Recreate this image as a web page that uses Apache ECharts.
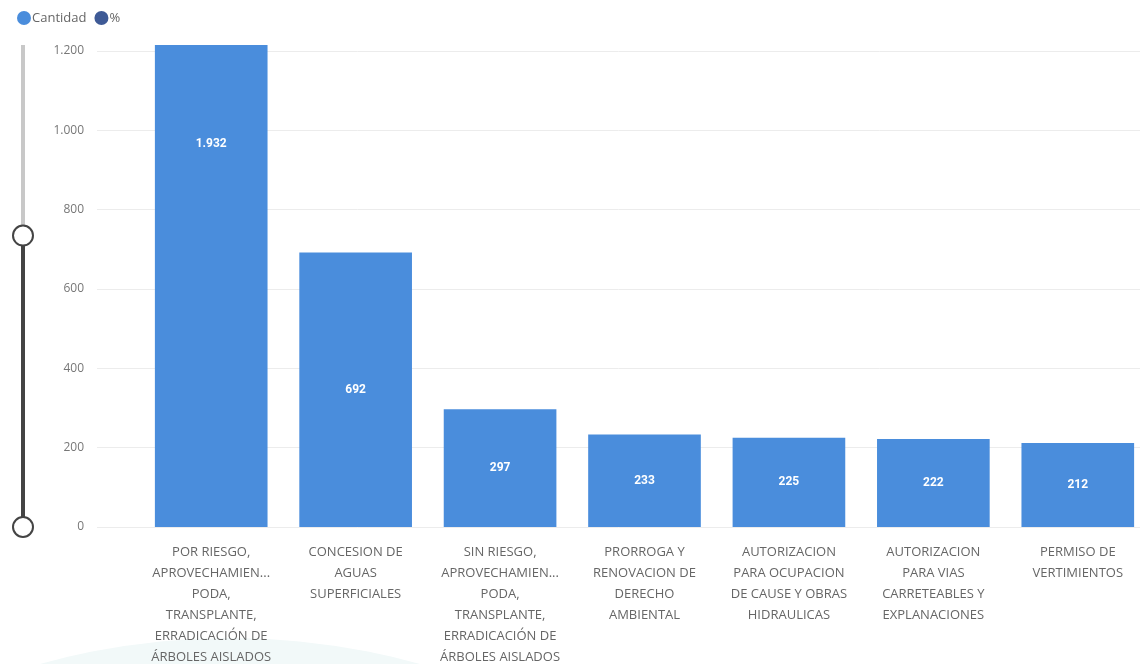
<!DOCTYPE html>
<html>
<head>
<meta charset="utf-8">
<title>Cantidad por tipo de trámite</title>
<script src="https://cdn.jsdelivr.net/npm/echarts@6/dist/echarts.min.js"></script>
<style>
  html, body { margin: 0; padding: 0; background: #fff; }
  #chart { width: 1140px; height: 664px; }
</style>
</head>
<body>
<div id="chart"></div>
<script>
"use strict";

// ---- data ----
var categories = [
    'POR RIESGO, APROVECHAMIENTO, PODA, TRANSPLANTE, ERRADICACIÓN DE ÁRBOLES AISLADOS',
    'CONCESION DE AGUAS SUPERFICIALES',
    'SIN RIESGO, APROVECHAMIENTO, PODA, TRANSPLANTE, ERRADICACIÓN DE ÁRBOLES AISLADOS',
    'PRORROGA Y RENOVACION DE DERECHO AMBIENTAL',
    'AUTORIZACION PARA OCUPACION DE CAUSE Y OBRAS HIDRAULICAS',
    'AUTORIZACION PARA VIAS CARRETEABLES Y EXPLANACIONES',
    'PERMISO DE VERTIMIENTOS'
];
// wrapped labels as they show under the axis
var tickLabels = [
    'POR RIESGO,\nAPROVECHAMIEN...\nPODA,\nTRANSPLANTE,\nERRADICACIÓN DE\nÁRBOLES AISLADOS',
    'CONCESION DE\nAGUAS\nSUPERFICIALES',
    'SIN RIESGO,\nAPROVECHAMIEN...\nPODA,\nTRANSPLANTE,\nERRADICACIÓN DE\nÁRBOLES AISLADOS',
    'PRORROGA Y\nRENOVACION DE\nDERECHO\nAMBIENTAL',
    'AUTORIZACION\nPARA OCUPACION\nDE CAUSE Y OBRAS\nHIDRAULICAS',
    'AUTORIZACION\nPARA VIAS\nCARRETEABLES Y\nEXPLANACIONES',
    'PERMISO DE\nVERTIMIENTOS'
];
var cantidad = [1932, 692, 297, 233, 225, 222, 212];
var porcentaje = [];   // second series, not drawn in the visible window

// zoom window shown by the slider
var viewMin = 0;
var viewMax = 1215;
var axisMax = 2000;

function fmt(n) {
    return String(n).replace(/\B(?=(\d{3})+(?!\d))/g, '.');
}

var chart = echarts.init(document.getElementById('chart'));

var option = {
    backgroundColor: '#fff',
    animation: false,
    textStyle: { fontFamily: 'Open Sans, Noto Sans, sans-serif' },

    // faint decorative arc bottom-left
    graphic: [{
        type: 'circle',
        shape: { cx: 230, cy: 1345, r: 707 },
        style: { fill: '#f2f9f9' },
        z: -10
    }],

    legend: {
        left: 12,
        top: 6,
        icon: 'circle',
        itemWidth: 14,
        itemHeight: 14,
        itemGap: 8,
        textStyle: { color: '#666', fontSize: 13, padding: [0, 0, 0, -4] },
        data: ['Cantidad', '%']
    },

    grid: [
        // y axis labels + split lines
        { left: 97, right: 0, top: 45, bottom: 137, outerBoundsMode: 'none' },
        // bars
        { left: 139, right: -10, top: 45, bottom: 137, outerBoundsMode: 'none' }
    ],

    xAxis: [
        { type: 'category', gridIndex: 0, data: categories, show: false },
        {
            type: 'category',
            gridIndex: 1,
            data: categories,
            axisLine: { show: false },
            axisTick: { show: false },
            axisLabel: {
                interval: 0,
                color: '#666',
                fontSize: 13,
                lineHeight: 21,
                margin: 15,
                verticalAlign: 'top',
                formatter: function(val, idx) { return tickLabels[idx]; }
            }
        }
    ],

    yAxis: [
        {
            type: 'value',
            gridIndex: 0,
            min: 0,
            max: axisMax,
            interval: 200,
            axisLine: { show: false },
            axisTick: { show: false },
            axisLabel: {
                color: '#777',
                fontSize: 12,
                margin: 13,
                showMaxLabel: false,
                formatter: function(v) { return fmt(v); }
            },
            splitLine: {
                showMaxLine: false,
                lineStyle: { color: '#ececec', width: 1 }
            }
        },
        {
            type: 'value',
            gridIndex: 1,
            min: 0,
            max: axisMax,
            interval: 200,
            show: false,
            splitLine: { show: false }
        }
    ],

    dataZoom: [{
        type: 'slider',
        orient: 'vertical',
        yAxisIndex: [0, 1],
        filterMode: 'none',
        startValue: viewMin,
        endValue: viewMax,
        left: 20,
        width: 4,
        top: 45,
        bottom: 136,
        backgroundColor: '#c8c8c8',
        fillerColor: '#444',
        borderColor: 'transparent',
        borderRadius: 0,
        showDetail: false,
        showDataShadow: false,
        brushSelect: false,
        moveHandleSize: 0,
        handleIcon: 'circle',
        handleSize: 20,
        handleStyle: {
            color: '#fff',
            borderColor: '#444',
            borderWidth: 2,
            shadowBlur: 0
        },
        dataBackground: {
            lineStyle: { opacity: 0 },
            areaStyle: { opacity: 0 }
        },
        selectedDataBackground: {
            lineStyle: { opacity: 0 },
            areaStyle: { opacity: 0 }
        },
        emphasis: {
            handleStyle: { borderColor: '#444', shadowBlur: 0 }
        }
    }],

    series: [
        {
            name: 'Cantidad',
            type: 'bar',
            xAxisIndex: 1,
            yAxisIndex: 1,
            data: cantidad,
            barWidth: '78%',
            itemStyle: { color: '#4a8ddc' },
            clip: true
        },
        {
            name: '%',
            type: 'line',
            xAxisIndex: 1,
            yAxisIndex: 1,
            data: porcentaje,
            itemStyle: { color: '#3e5a96' },
            lineStyle: { color: '#3e5a96' }
        },
        {
            // value labels placed at the middle of the full (unclipped) bar
            name: 'labels',
            type: 'custom',
            xAxisIndex: 1,
            yAxisIndex: 1,
            silent: true,
            data: cantidad.map(function(v, i) { return [i, v]; }),
            encode: { x: 0, y: 1 },
            renderItem: function(params, api) {
                var v = api.value(1);
                var p = api.coord([api.value(0), v / 2]);
                return {
                    type: 'text',
                    x: p[0],
                    y: p[1],
                    style: {
                        text: fmt(v),
                        fill: '#fff',
                        font: 'bold 12px Roboto, sans-serif',
                        align: 'center',
                        verticalAlign: 'middle'
                    },
                    z2: 10
                };
            }
        }
    ]
};

chart.setOption(option);
</script>
</body>
</html>
